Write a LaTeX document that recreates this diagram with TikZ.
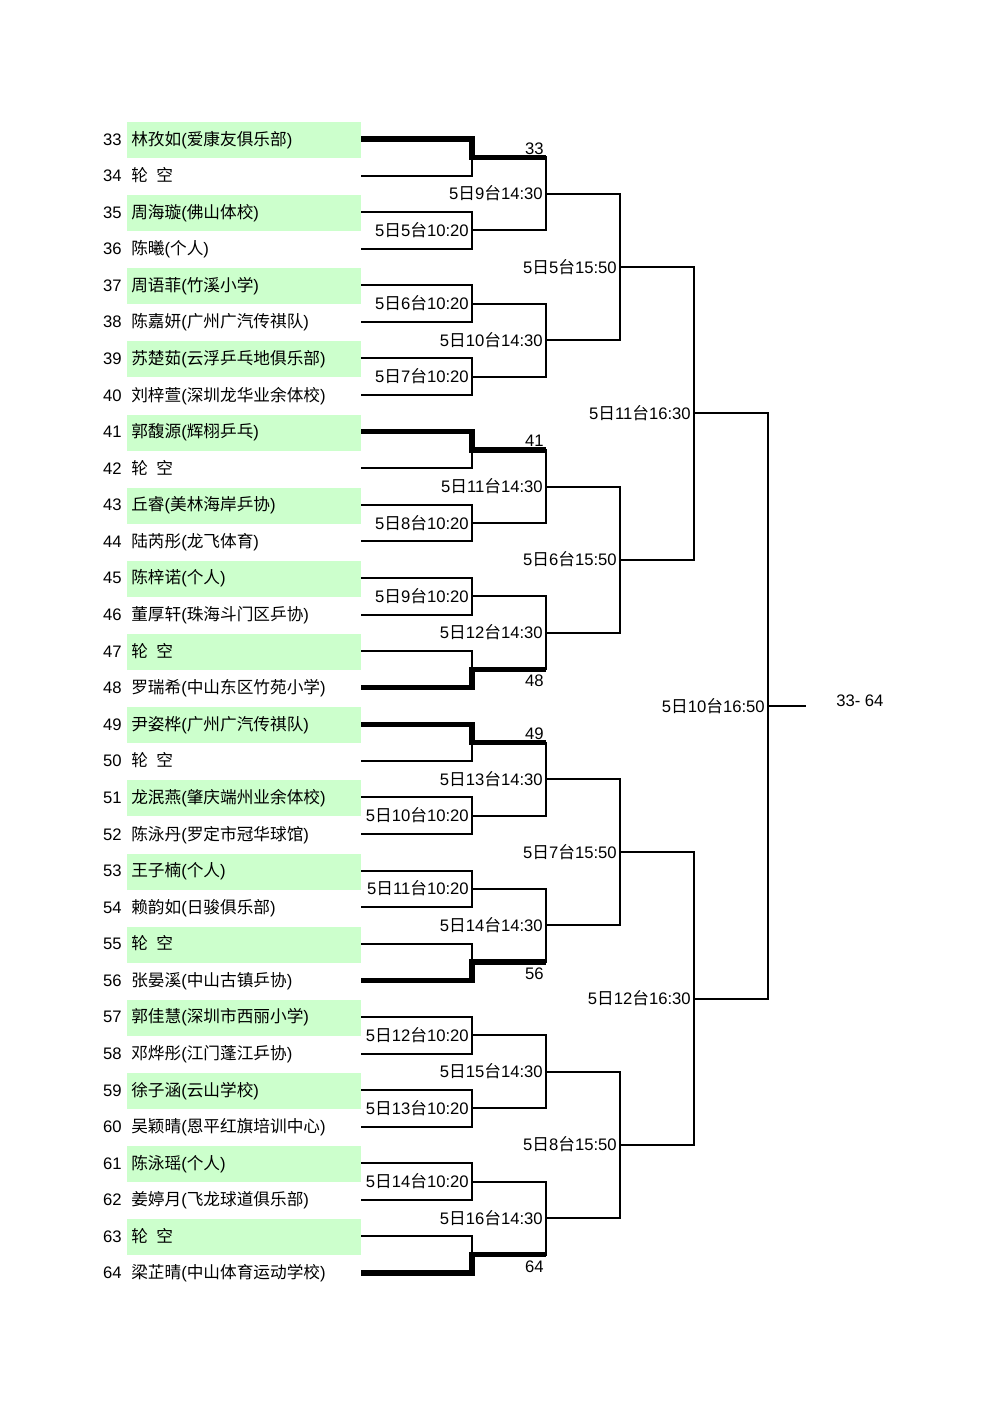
\documentclass[tikz,border=0pt]{standalone}
\usepackage{fontspec}
\setmainfont{Liberation Sans}
\newfontfamily\cjk{Noto Sans CJK SC}
\newcommand\tm[3]{#1{\cjk 日}#2{\cjk 台}#3}
\newcommand\nmx[2]{{\cjk #1}({\cjk #2})}
\newcommand\byex{{\cjk 轮\hspace{0.5em}空}}
\definecolor{boxgreen}{RGB}{204,255,204}
\begin{document}
\begin{tikzpicture}[x=0.75pt,y=-0.75pt,
  thinln/.style={line width=1.5pt},
  thickln/.style={line width=4pt},
  lab/.style={inner sep=0pt,font=\fontsize{12.5pt}{14pt}\selectfont}]
\useasboundingbox (0,0) rectangle (1000,1414);
% rows
\foreach \nm [count=\k from 0] in {
 \nmx{林孜如}{爱康友俱乐部}, \byex, \nmx{周海璇}{佛山体校}, \nmx{陈曦}{个人},
 \nmx{周语菲}{竹溪小学}, \nmx{陈嘉妍}{广州广汽传祺队}, \nmx{苏楚茹}{云浮乒乓地俱乐部}, \nmx{刘梓萱}{深圳龙华业余体校},
 \nmx{郭馥源}{辉栩乒乓}, \byex, \nmx{丘睿}{美林海岸乒协}, \nmx{陆芮彤}{龙飞体育},
 \nmx{陈梓诺}{个人}, \nmx{董厚轩}{珠海斗门区乒协}, \byex, \nmx{罗瑞希}{中山东区竹苑小学},
 \nmx{尹姿桦}{广州广汽传祺队}, \byex, \nmx{龙泯燕}{肇庆端州业余体校}, \nmx{陈泳丹}{罗定市冠华球馆},
 \nmx{王子楠}{个人}, \nmx{赖韵如}{日骏俱乐部}, \byex, \nmx{张晏溪}{中山古镇乒协},
 \nmx{郭佳慧}{深圳市西丽小学}, \nmx{邓烨彤}{江门蓬江乒协}, \nmx{徐子涵}{云山学校}, \nmx{吴颖晴}{恩平红旗培训中心},
 \nmx{陈泳瑶}{个人}, \nmx{姜婷月}{飞龙球道俱乐部}, \byex, \nmx{梁芷晴}{中山体育运动学校}}{
  \pgfmathsetmacro\yy{139+36.58*\k}
  \pgfmathtruncatemacro\num{33+\k}
  \ifodd\k\relax\else\fill[boxgreen] (127,\yy-17) rectangle (361,\yy+19);\fi
  \node[lab,anchor=base east] (n\num) at (122,\yy+6) {\num};
  \node[lab,anchor=base west] (p\num) at (131,\yy+6) {\nm};
  \coordinate (r\num) at (361,\yy);
}
% junction coordinates
\foreach \j in {1,...,16}{\pgfmathsetmacro\ym{139+36.58*(2*\j-1.5)}\coordinate (m1-\j) at (472,\ym);}
\foreach \j in {1,...,8}{\pgfmathsetmacro\ym{139+36.58*(4*\j-2.5)}\coordinate (m2-\j) at (546,\ym);}
\foreach \j in {1,...,4}{\pgfmathsetmacro\ym{139+36.58*(8*\j-4.5)}\coordinate (m3-\j) at (620,\ym);}
\foreach \j in {1,2}{\pgfmathsetmacro\ym{139+36.58*(16*\j-8.5)}\coordinate (m4-\j) at (694,\ym);}
\coordinate (m5) at (768,{139+36.58*15.5});
\coordinate (fin) at (806,{139+36.58*15.5});
% round 1
\foreach \j in {1,...,16}{
  \pgfmathtruncatemacro\ra{31+2*\j}\pgfmathtruncatemacro\rb{32+2*\j}
  \draw[thinln] (r\ra) -| (m1-\j);
  \draw[thinln] (r\rb) -| (m1-\j);
}
% round 2
\foreach \j in {1,...,8}{
  \pgfmathtruncatemacro\ra{2*\j-1}\pgfmathtruncatemacro\rb{2*\j}
  \draw[thinln] (m1-\ra) -| (m2-\j);
  \draw[thinln] (m1-\rb) -| (m2-\j);
  \pgfmathtruncatemacro\bd{\j+8}
  \node[lab,anchor=base east] (l2-\j) at ([shift={(-3,6)}]m2-\j) {\tm{5}{\bd}{14:30}};
}
% round 3
\foreach \j in {1,...,4}{
  \pgfmathtruncatemacro\ra{2*\j-1}\pgfmathtruncatemacro\rb{2*\j}
  \draw[thinln] (m2-\ra) -| (m3-\j);
  \draw[thinln] (m2-\rb) -| (m3-\j);
  \pgfmathtruncatemacro\bd{\j+4}
  \node[lab,anchor=base east] (l3-\j) at ([shift={(-3,6)}]m3-\j) {\tm{5}{\bd}{15:50}};
}
% round 4
\foreach \j in {1,2}{
  \pgfmathtruncatemacro\ra{2*\j-1}\pgfmathtruncatemacro\rb{2*\j}
  \draw[thinln] (m3-\ra) -| (m4-\j);
  \draw[thinln] (m3-\rb) -| (m4-\j);
  \pgfmathtruncatemacro\bd{\j+10}
  \node[lab,anchor=base east] (l4-\j) at ([shift={(-3,6)}]m4-\j) {\tm{5}{\bd}{16:30}};
}
% round 5 (final)
\draw[thinln] (m4-1) -| (m5);
\draw[thinln] (m4-2) -| (m5);
\draw[thinln] (m5) -- (fin);
\node[lab,anchor=base east] (l5) at ([shift={(-3,6)}]m5) {\tm{5}{10}{16:50}};
\node[lab,anchor=base west] (champ) at ([shift={(30,0)}]fin) {33- 64};
% round 1 labels
\foreach \j/\bd in {2/5,3/6,4/7,6/8,7/9,10/10,11/11,13/12,14/13,15/14}{
  \node[lab,anchor=base east] (l1-\j) at ([shift={(-3,6)}]m1-\j) {\tm{5}{\bd}{10:20}};
}
% byes: top winners
\foreach \j/\r/\k in {1/33/1,5/41/3,9/49/5}{
  \draw[thickln] (r\r) -| (m1-\j) -- (m1-\j -| m2-\k);
  \node[lab,anchor=base east] (w\r) at ([shift={(72,-3)}]m1-\j) {\r};
}
% byes: bottom winners
\foreach \j/\r/\k in {8/48/4,12/56/6,16/64/8}{
  \draw[thickln] (r\r) -| (m1-\j) -- (m1-\j -| m2-\k);
  \node[lab,anchor=north east] (w\r) at ([shift={(72,5.5)}]m1-\j) {\r};
}
\end{tikzpicture}
\end{document}
